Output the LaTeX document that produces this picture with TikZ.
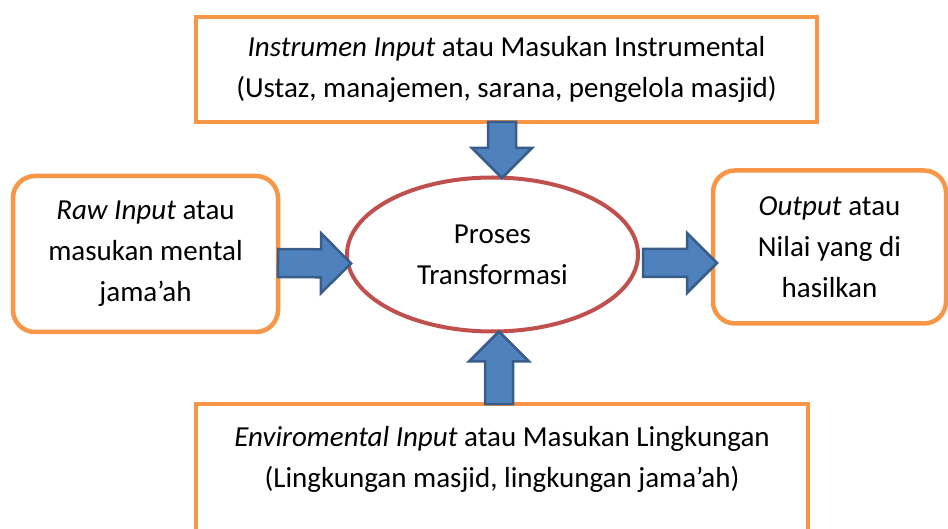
\documentclass[tikz,border=0pt]{standalone}
\usepackage{fontspec}
\setmainfont{Carlito}
\usetikzlibrary{calc,shapes.geometric}
\definecolor{boxorange}{HTML}{F79646}
\definecolor{ellred}{HTML}{C0504D}
\definecolor{arrowfill}{HTML}{4F81BD}
\definecolor{arrowedge}{HTML}{385D8A}
\tikzset{
  sqbox/.style={draw=boxorange,line width=4.5pt,fill=white,align=center,outer sep=0pt},
  rndbox/.style={sqbox,rounded corners=22pt},
  procell/.style={draw=ellred,line width=4pt,ellipse,align=center,outer sep=0pt},
  blockarrow/.style={draw=arrowedge,fill=arrowfill,line width=2.5pt,line join=miter}
}
% block arrow from #1 to #2
\newcommand{\blockarr}[2]{%
  \coordinate (ba-s) at (#1);
  \coordinate (ba-t) at (#2);
  \coordinate (ba-c) at ($(ba-t)!30pt!(ba-s)$);
  \draw[blockarrow] ($(ba-s)!14pt!90:(ba-t)$) -- ($(ba-c)!14pt!90:(ba-t)$)
    -- ($(ba-c)!30pt!90:(ba-t)$) -- (ba-t) -- ($(ba-c)!30pt!-90:(ba-t)$)
    -- ($(ba-c)!14pt!-90:(ba-t)$) -- ($(ba-s)!14pt!-90:(ba-t)$) -- cycle;}
\begin{document}
\begin{tikzpicture}[x=1pt,y=-1pt,font=\fontsize{29}{41}\selectfont]
	\clip (0,0) rectangle (948,529);
	\node[sqbox,minimum width=621,minimum height=105] (instr) at (506.5,69.5)
		{\textit{Instrumen Input} atau Masukan Instrumental\\(Ustaz, manajemen, sarana, pengelola masjid)};
	\node[rndbox,minimum width=265,minimum height=156] (raw) at (145.5,254)
		{\textit{Raw Input} atau\\masukan mental\\jama’ah};
	\node[procell,minimum width=291,minimum height=154] (proses) at (492.5,254.5)
		{Proses\\Transformasi};
	\node[rndbox,minimum width=233,minimum height=153] (output) at (829.5,247)
		{\textit{Output} atau\\Nilai yang di\\hasilkan};
	\node[sqbox,minimum width=612,minimum height=160,anchor=north] (env) at (502,404) {};
	\node[align=center] (envtxt) at (502,459)
		{\textit{Enviromental Input} atau Masukan Lingkungan\\(Lingkungan masjid, lingkungan jama’ah)};
	% arrows into and out of the process
	\blockarr{[xshift=-4.5pt]instr.south}{$(instr.south |- proses.north)+(-4.5,0.5)$}
	\blockarr{[yshift=-9pt]raw.east}{[xshift=4pt,yshift=-9pt]proses.west}
	\blockarr{[xshift=5pt,yshift=-8.5pt]proses.east}{[xshift=4pt,yshift=-16pt]output.west}
	\blockarr{[xshift=-3pt]env.north}{$(env.north |- proses.south)+(-3,0)$}
\end{tikzpicture}
\end{document}
